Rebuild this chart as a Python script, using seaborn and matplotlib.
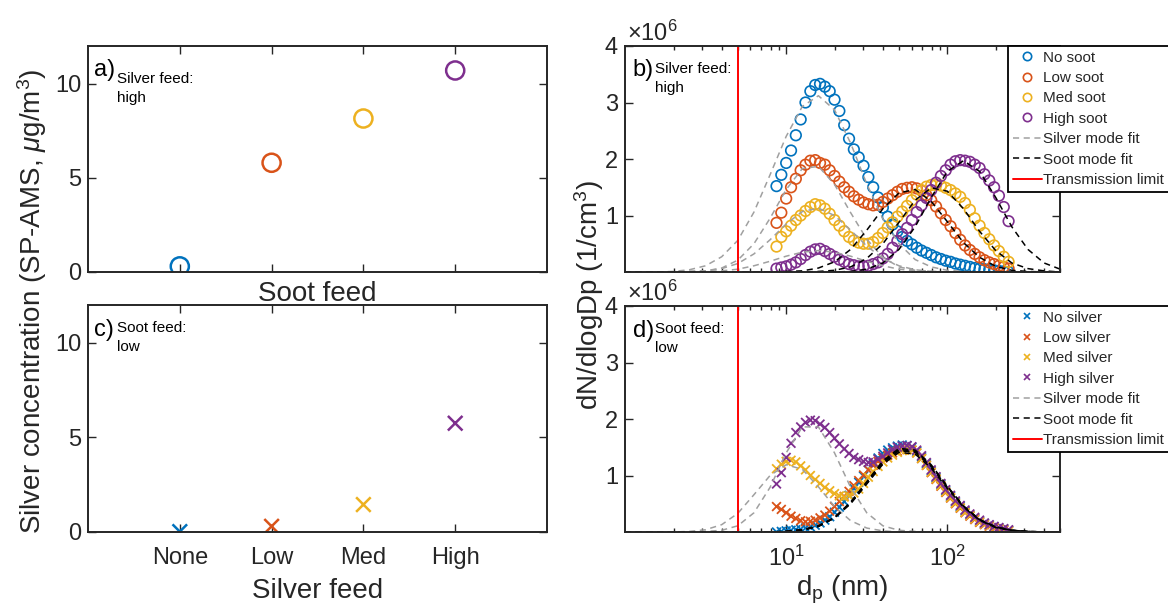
#!/usr/bin/env python3
"""
Silver concentration (SP-AMS) vs feed settings, and SMPS size distributions
with silver / soot lognormal mode fits. Four panels a)-d).
"""

import numpy as np
import pandas as pd
import matplotlib
matplotlib.use("Agg")
import matplotlib.pyplot as plt
from matplotlib.lines import Line2D
import seaborn as sns

# ------------------------------------------------------------------
# Data
# ------------------------------------------------------------------
feed_levels = ["None", "Low", "Med", "High"]
series_colors = ["#0072BD", "#D95319", "#EDB120", "#7E2F8E"]

# a) silver feed high, soot feed varied (ug/m3)
silver_conc_a = [0.3, 5.8, 8.15, 10.7]
# c) soot feed low, silver feed varied (ug/m3)
silver_conc_c = [0.02, 0.3, 1.45, 5.75]

soot_labels = ["No soot", "Low soot", "Med soot", "High soot"]
silver_labels = ["No silver", "Low silver", "Med silver", "High silver"]

transmission_limit_nm = 5.0

# SMPS mobility diameters (nm)
dp_nm = [8.71, 9.33, 10.0, 10.72, 11.48, 12.30, 13.18, 14.13, 15.14, 16.22,
         17.38, 18.62, 19.95, 21.38, 22.91, 24.55, 26.30, 28.18, 30.20, 32.36,
         34.67, 37.15, 39.81, 42.66, 45.71, 48.98, 52.48, 56.23, 60.26, 64.57,
         69.18, 74.13, 79.43, 85.11, 91.20, 97.72, 104.7, 112.2, 120.2, 128.8,
         138.0, 147.9, 158.5, 169.8, 182.0, 195.0, 208.9, 223.9, 239.9]

# b) dN/dlogDp (x1e6 cm^-3), silver feed high
b_no_soot = [1.52, 1.72, 1.93, 2.15, 2.42, 2.70, 3.00, 3.20, 3.31, 3.33,
             3.28, 3.20, 3.05, 2.85, 2.60, 2.36, 2.17, 2.03, 1.88, 1.68,
             1.50, 1.32, 1.14, 0.98, 0.84, 0.72, 0.62, 0.55, 0.49, 0.43,
             0.38, 0.34, 0.30, 0.26, 0.23, 0.20, 0.18, 0.15, 0.13, 0.11,
             0.09, 0.07, 0.06, 0.05, 0.04, 0.03, 0.02, 0.01, 0.0]
b_low_soot = [0.87, 1.05, 1.30, 1.50, 1.65, 1.80, 1.90, 1.97, 1.98, 1.93,
              1.90, 1.80, 1.70, 1.60, 1.50, 1.42, 1.34, 1.28, 1.23, 1.20,
              1.18, 1.19, 1.24, 1.30, 1.36, 1.42, 1.47, 1.49, 1.50, 1.48,
              1.44, 1.36, 1.27, 1.16, 1.04, 0.92, 0.81, 0.69, 0.57, 0.47,
              0.39, 0.32, 0.26, 0.21, 0.17, 0.14, 0.11, 0.09, 0.06]
b_med_soot = [0.45, 0.62, 0.72, 0.82, 0.92, 1.00, 1.08, 1.15, 1.20, 1.18,
              1.12, 1.03, 0.92, 0.82, 0.72, 0.62, 0.56, 0.52, 0.50, 0.50,
              0.53, 0.60, 0.69, 0.79, 0.88, 0.98, 1.07, 1.17, 1.27, 1.37,
              1.45, 1.51, 1.54, 1.54, 1.53, 1.49, 1.45, 1.39, 1.33, 1.22,
              1.10, 0.95, 0.82, 0.69, 0.58, 0.47, 0.37, 0.27, 0.18]
b_high_soot = [0.06, 0.08, 0.10, 0.13, 0.17, 0.23, 0.30, 0.36, 0.40, 0.41,
               0.37, 0.32, 0.27, 0.22, 0.18, 0.14, 0.12, 0.10, 0.10, 0.11,
               0.14, 0.17, 0.24, 0.32, 0.43, 0.55, 0.67, 0.78, 0.92, 1.06,
               1.18, 1.31, 1.45, 1.58, 1.70, 1.80, 1.90, 1.96, 1.98, 1.97,
               1.95, 1.90, 1.84, 1.73, 1.62, 1.50, 1.35, 1.15, 0.90]

# d) dN/dlogDp (x1e6 cm^-3), soot feed low
d_no_silver = [0.00, 0.01, 0.02, 0.03, 0.04, 0.05, 0.07, 0.09, 0.12, 0.16,
               0.21, 0.27, 0.35, 0.44, 0.54, 0.65, 0.77, 0.88, 0.99, 1.10,
               1.21, 1.31, 1.39, 1.45, 1.49, 1.52, 1.54, 1.53, 1.50, 1.43,
               1.33, 1.21, 1.08, 0.96, 0.84, 0.73, 0.63, 0.53, 0.45, 0.37,
               0.30, 0.24, 0.19, 0.15, 0.12, 0.09, 0.07, 0.05, 0.03]
d_low_silver = [0.45, 0.40, 0.34, 0.28, 0.24, 0.20, 0.18, 0.19, 0.21, 0.25,
                0.30, 0.37, 0.45, 0.54, 0.63, 0.72, 0.82, 0.91, 1.01, 1.10,
                1.18, 1.25, 1.31, 1.36, 1.40, 1.43, 1.45, 1.46, 1.45, 1.40,
                1.30, 1.18, 1.05, 0.93, 0.81, 0.70, 0.60, 0.50, 0.42, 0.34,
                0.28, 0.22, 0.17, 0.13, 0.10, 0.07, 0.05, 0.03, 0.02]
d_med_silver = [1.12, 1.20, 1.25, 1.27, 1.24, 1.17, 1.10, 1.00, 0.93, 0.86,
                0.79, 0.73, 0.68, 0.64, 0.62, 0.64, 0.69, 0.76, 0.86, 0.97,
                1.07, 1.16, 1.24, 1.31, 1.36, 1.41, 1.44, 1.46, 1.45, 1.40,
                1.30, 1.18, 1.06, 0.94, 0.82, 0.71, 0.61, 0.51, 0.43, 0.35,
                0.29, 0.23, 0.18, 0.14, 0.11, 0.08, 0.06, 0.04, 0.02]
d_high_silver = [0.85, 1.05, 1.32, 1.57, 1.76, 1.86, 1.94, 1.98, 1.97, 1.91,
                 1.85, 1.76, 1.66, 1.56, 1.47, 1.39, 1.32, 1.28, 1.25, 1.23,
                 1.24, 1.29, 1.34, 1.40, 1.46, 1.50, 1.52, 1.53, 1.51, 1.45,
                 1.35, 1.23, 1.10, 0.98, 0.86, 0.75, 0.65, 0.55, 0.47, 0.39,
                 0.32, 0.26, 0.21, 0.16, 0.13, 0.10, 0.08, 0.06, 0.04]

# diameters for the mode-fit curves (nm)
dp_fit = [1.0, 1.259, 1.585, 1.995, 2.512, 3.162, 3.981, 5.012, 6.310, 7.943,
          10.0, 12.59, 15.85, 19.95, 25.12, 31.62, 39.81, 50.12, 63.10, 79.43,
          100.0, 125.9, 158.5, 199.5, 251.2, 316.2, 398.1, 501.2]

# b) silver-mode fits
b_silver_fit_none = [0, 0, 0, 0.01, 0.04, 0.11, 0.27, 0.56, 1.06, 1.72, 2.40, 2.93, 3.12, 2.87,
                     2.28, 1.56, 0.94, 0.50, 0.22, 0.09, 0.03, 0.01, 0, 0, 0, 0, 0, 0]
b_silver_fit_low = [0, 0, 0, 0, 0.01, 0.02, 0.07, 0.21, 0.50, 0.95, 1.46, 1.83, 1.87, 1.55,
                    1.05, 0.58, 0.26, 0.09, 0.03, 0.01, 0, 0, 0, 0, 0, 0, 0, 0]
b_silver_fit_med = [0, 0, 0, 0, 0.01, 0.02, 0.06, 0.15, 0.32, 0.57, 0.85, 1.07, 1.13, 1.00,
                    0.74, 0.46, 0.24, 0.11, 0.04, 0.01, 0, 0, 0, 0, 0, 0, 0, 0]
b_silver_fit_high = [0, 0, 0, 0, 0, 0.01, 0.02, 0.05, 0.11, 0.19, 0.28, 0.35, 0.38, 0.35,
                     0.28, 0.19, 0.11, 0.05, 0.02, 0.01, 0, 0, 0, 0, 0, 0, 0, 0]
# b) soot-mode fits
b_soot_fit_none = [0] * 28
b_soot_fit_low = [0, 0, 0, 0, 0, 0, 0, 0, 0, 0, 0.01, 0.02, 0.07, 0.18,
                  0.40, 0.74, 1.12, 1.40, 1.46, 1.25, 0.89, 0.52, 0.26, 0.10, 0.03, 0.01, 0, 0]
b_soot_fit_med = [0, 0, 0, 0, 0, 0, 0, 0, 0, 0, 0, 0, 0.01, 0.03,
                  0.09, 0.24, 0.50, 0.88, 1.27, 1.49, 1.43, 1.12, 0.72, 0.38, 0.16, 0.06, 0.02, 0]
b_soot_fit_high = [0, 0, 0, 0, 0, 0, 0, 0, 0, 0, 0, 0, 0, 0,
                   0.01, 0.05, 0.16, 0.40, 0.80, 1.32, 1.78, 1.97, 1.78, 1.32, 0.80, 0.40, 0.16, 0.05]

# d) silver-mode fits
d_silver_fit_med = [0, 0, 0, 0, 0.01, 0.04, 0.13, 0.33, 0.66, 1.00, 1.19, 1.11, 0.80, 0.45,
                    0.20, 0.07, 0.02, 0, 0, 0, 0, 0, 0, 0, 0, 0, 0, 0]
d_silver_fit_high = [0, 0, 0, 0, 0, 0.01, 0.03, 0.11, 0.34, 0.79, 1.40, 1.86, 1.86, 1.40,
                     0.79, 0.34, 0.11, 0.03, 0.01, 0, 0, 0, 0, 0, 0, 0, 0, 0]
# d) soot-mode fits
d_soot_fit_none = [0, 0, 0, 0, 0, 0, 0, 0, 0, 0, 0.01, 0.04, 0.11, 0.26,
                   0.53, 0.89, 1.26, 1.48, 1.45, 1.19, 0.81, 0.46, 0.22, 0.09, 0.03, 0.01, 0, 0]
d_soot_fit_low = [0, 0, 0, 0, 0, 0, 0, 0, 0, 0, 0.01, 0.04, 0.10, 0.25,
                  0.51, 0.86, 1.22, 1.44, 1.41, 1.16, 0.79, 0.45, 0.21, 0.08, 0.03, 0.01, 0, 0]
d_soot_fit_med = [0, 0, 0, 0, 0, 0, 0, 0, 0, 0, 0.01, 0.03, 0.10, 0.25,
                  0.50, 0.85, 1.20, 1.41, 1.38, 1.13, 0.77, 0.44, 0.21, 0.08, 0.03, 0.01, 0, 0]
d_soot_fit_high = [0, 0, 0, 0, 0, 0, 0, 0, 0, 0, 0.01, 0.04, 0.10, 0.25,
                   0.52, 0.88, 1.24, 1.46, 1.43, 1.17, 0.80, 0.46, 0.22, 0.09, 0.03, 0.01, 0, 0]

# ------------------------------------------------------------------
# Style
# ------------------------------------------------------------------
sns.set_style("ticks")
plt.rcParams["font.family"] = ["Liberation Sans", "DejaVu Sans"]
plt.rcParams["mathtext.fontset"] = "custom"
plt.rcParams["mathtext.rm"] = "Liberation Sans"
plt.rcParams["mathtext.it"] = "Liberation Sans:italic"
plt.rcParams["mathtext.bf"] = "Liberation Sans:bold"

AX_COL = "#262626"
TICK_FS = 17
LABEL_FS = 20
SMALL_FS = 11
SILVER_GRAY = "#A0A0A0"
DASH = (0, (4, 3))

W, H = 1168, 612
fig = plt.figure(figsize=(W / 100, H / 100), dpi=100)


def px_box(left, top, right, bottom):
    return [left / W, 1 - bottom / H, (right - left) / W, (bottom - top) / H]


ax_a = fig.add_axes(px_box(88, 46, 547, 272))
ax_c = fig.add_axes(px_box(88, 305, 547, 532))
ax_b = fig.add_axes(px_box(625, 46, 1060, 272))
ax_d = fig.add_axes(px_box(625, 306, 1060, 532))


def style_axes(ax):
    for sp in ax.spines.values():
        sp.set_visible(True)
        sp.set_color(AX_COL)
        sp.set_linewidth(1.4)
    ax.tick_params(which="both", direction="in", top=True, right=True,
                   colors=AX_COL, labelsize=TICK_FS, width=1.0)
    ax.tick_params(which="major", length=6)
    ax.tick_params(which="minor", length=3)
    ax.tick_params(axis="y", pad=5)


def hollow(collection, lw):
    fc = collection.get_facecolors()
    collection.set_edgecolors(fc)
    collection.set_facecolors("none")
    collection.set_linewidth(lw)


# ------------------------------------------------------------------
# a) and c): silver concentration vs feed
# ------------------------------------------------------------------
sns.scatterplot(x=feed_levels, y=silver_conc_a, hue=feed_levels,
                palette=series_colors, marker="o", s=170, legend=False, ax=ax_a)
hollow(ax_a.collections[0], 1.8)

sns.scatterplot(x=feed_levels, y=silver_conc_c, hue=feed_levels,
                palette=series_colors, marker="x", s=110, linewidth=1.8,
                legend=False, ax=ax_c)
xs = ax_c.collections[0]
xs.set_edgecolors(xs.get_facecolors())

for ax in (ax_a, ax_c):
    style_axes(ax)
    ax.set_xlim(-1, 4)
    ax.set_ylim(0, 12)
    ax.set_yticks([0, 5, 10])
    ax.set_xticks(range(len(feed_levels)))
    ax.set_ylabel("")

ax_a.set_xticklabels([])
ax_a.set_xlabel("Soot feed", fontsize=LABEL_FS, color=AX_COL, labelpad=3)
ax_c.set_xticklabels(feed_levels)
ax_c.tick_params(axis="x", pad=11)
ax_c.set_xlabel("Silver feed", fontsize=LABEL_FS, color=AX_COL, labelpad=6)

ax_a.text(0.012, 0.895, "a)", transform=ax_a.transAxes, fontsize=TICK_FS,
          va="center", ha="left", color="k")
ax_a.text(0.063, 0.885, "Silver feed:\nhigh", transform=ax_a.transAxes,
          fontsize=SMALL_FS, va="top", ha="left", linespacing=1.45, color="k")
ax_c.text(0.012, 0.89, "c)", transform=ax_c.transAxes, fontsize=TICK_FS,
          va="center", ha="left", color="k")
ax_c.text(0.063, 0.93, "Soot feed:\nlow", transform=ax_c.transAxes,
          fontsize=SMALL_FS, va="top", ha="left", linespacing=1.45, color="k")

fig.text(32 / W, 1 - 301 / H, r"Silver concentration (SP-AMS, $\mu$g/m$^3$)",
         rotation=90, ha="center", va="center", fontsize=LABEL_FS, color=AX_COL)

# ------------------------------------------------------------------
# b) and d): size distributions
# ------------------------------------------------------------------
df_b = pd.DataFrame({
    "dp": dp_nm * 4,
    "dN": b_no_soot + b_low_soot + b_med_soot + b_high_soot,
    "series": np.repeat(soot_labels, len(dp_nm)),
})
df_d = pd.DataFrame({
    "dp": dp_nm * 4,
    "dN": d_no_silver + d_low_silver + d_med_silver + d_high_silver,
    "series": np.repeat(silver_labels, len(dp_nm)),
})

b_silver_fits = [b_silver_fit_none, b_silver_fit_low, b_silver_fit_med, b_silver_fit_high]
b_soot_fits = [b_soot_fit_none, b_soot_fit_low, b_soot_fit_med, b_soot_fit_high]
d_silver_fits = [d_silver_fit_med, d_silver_fit_high]
d_soot_fits = [d_soot_fit_none, d_soot_fit_low, d_soot_fit_med, d_soot_fit_high]

for ax in (ax_b, ax_d):
    ax.set_xscale("log")

sns.scatterplot(data=df_b, x="dp", y="dN", hue="series", palette=series_colors,
                marker="o", s=58, legend=False, ax=ax_b)
hollow(ax_b.collections[0], 1.2)

sns.scatterplot(data=df_d, x="dp", y="dN", hue="series", palette=series_colors,
                marker="x", s=40, linewidth=1.3, legend=False, ax=ax_d)
xd = ax_d.collections[0]
xd.set_edgecolors(xd.get_facecolors())

for ax, silver_fits, soot_fits in ((ax_b, b_silver_fits, b_soot_fits),
                                   (ax_d, d_silver_fits, d_soot_fits)):
    for curve in silver_fits:
        sns.lineplot(x=dp_fit, y=curve, ax=ax, color=SILVER_GRAY, linestyle=DASH,
                     linewidth=1.1, estimator=None, sort=False, legend=False)
    for curve in soot_fits:
        sns.lineplot(x=dp_fit, y=curve, ax=ax, color="k", linestyle=DASH,
                     linewidth=1.1, estimator=None, sort=False, legend=False)
    ax.axvline(transmission_limit_nm, color="#FF0000", linewidth=1.4)

    style_axes(ax)
    ax.set_xlim(1, 500)
    ax.set_ylim(0, 4)
    ax.set_yticks([1, 2, 3, 4])
    ax.set_yticklabels(["1", "2", "3", "4"])
    ax.set_xticks([10, 100])
    ax.set_ylabel("")
    ax.set_xlabel("")
    ax.text(0.005, 1.0, r"$\times10^6$", transform=ax.transAxes, fontsize=TICK_FS,
            ha="left", va="bottom", color=AX_COL)

ax_b.set_xticklabels([])
ax_d.set_xticklabels([r"$10^1$", r"$10^2$"])
ax_d.tick_params(axis="x", pad=10)
ax_d.set_xlabel(r"d$_\mathrm{p}$ (nm)", fontsize=LABEL_FS, color=AX_COL, labelpad=2)

ax_b.text(0.018, 0.895, "b)", transform=ax_b.transAxes, fontsize=TICK_FS,
          va="center", ha="left", color="k")
ax_b.text(0.069, 0.93, "Silver feed:\nhigh", transform=ax_b.transAxes,
          fontsize=SMALL_FS, va="top", ha="left", linespacing=1.45, color="k")
ax_d.text(0.018, 0.89, "d)", transform=ax_d.transAxes, fontsize=TICK_FS,
          va="center", ha="left", color="k")
ax_d.text(0.069, 0.93, "Soot feed:\nlow", transform=ax_d.transAxes,
          fontsize=SMALL_FS, va="top", ha="left", linespacing=1.45, color="k")

fig.text(589 / W, 1 - 295 / H, r"dN/dlogDp (1/cm$^3$)", rotation=90,
         ha="center", va="center", fontsize=LABEL_FS, color=AX_COL)


# ------------------------------------------------------------------
# Legends
# ------------------------------------------------------------------
def make_handles(labels, marker):
    hs = []
    for lab, col in zip(labels, series_colors):
        if marker == "o":
            hs.append(Line2D([], [], marker="o", linestyle="none", markersize=6,
                             markerfacecolor="none", markeredgecolor=col,
                             markeredgewidth=1.2, label=lab))
        else:
            hs.append(Line2D([], [], marker="x", linestyle="none", markersize=5,
                             color=col, markeredgewidth=1.2, label=lab))
    hs.append(Line2D([], [], color=SILVER_GRAY, linestyle=DASH, linewidth=1.1,
                     label="Silver mode fit"))
    hs.append(Line2D([], [], color="k", linestyle=DASH, linewidth=1.1,
                     label="Soot mode fit"))
    hs.append(Line2D([], [], color="#FF0000", linewidth=1.4, label="Transmission limit"))
    return hs


for ax, labels, marker, top in ((ax_b, soot_labels, "o", 46),
                                (ax_d, silver_labels, "x", 306)):
    leg = ax.legend(handles=make_handles(labels, marker), loc="upper left",
                    bbox_to_anchor=(1008 / W, 1 - top / H),
                    bbox_transform=fig.transFigure, fontsize=SMALL_FS,
                    frameon=True, fancybox=False, framealpha=1.0,
                    edgecolor="k", borderpad=0.3, labelspacing=0.42,
                    handlelength=1.9, handletextpad=0.1, borderaxespad=0.0)
    leg.get_frame().set_linewidth(1.3)

fig.savefig("out.png", dpi=100)
plt.close(fig)
